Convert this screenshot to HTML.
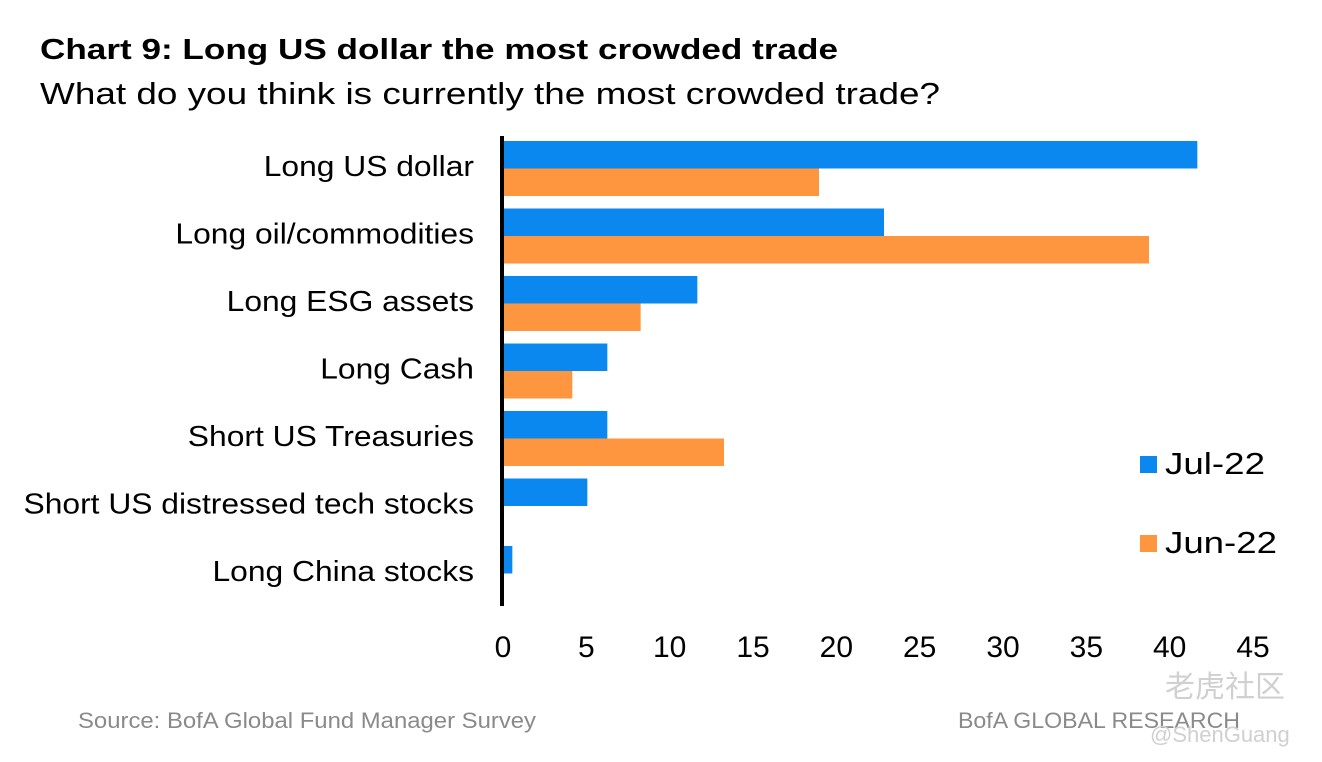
<!DOCTYPE html>
<html><head><meta charset="utf-8"><style>
body{margin:0;background:#fff;font-family:"Liberation Sans",sans-serif;}
svg{display:block}
</style></head><body>
<svg width="1322" height="762" xmlns="http://www.w3.org/2000/svg" id="chart">
<text x="40" y="59" font-size="29" font-weight="bold" fill="#000" textLength="798" lengthAdjust="spacingAndGlyphs">Chart 9: Long US dollar the most crowded trade</text>
<text x="40" y="104" font-size="31" fill="#000" textLength="900" lengthAdjust="spacingAndGlyphs">What do you think is currently the most crowded trade?</text>
<g id="bars"></g>
<g id="cats"></g>
<g id="ticks"></g>
<rect x="500" y="136" width="4" height="470" fill="#000"/>
<g>
<rect x="1140" y="456" width="17" height="17" fill="#0a88f0"/>
<text x="1165" y="474" font-size="31" textLength="100" lengthAdjust="spacingAndGlyphs">Jul-22</text>
<rect x="1140" y="535" width="17" height="17" fill="#fd963e"/>
<text x="1165" y="553" font-size="31" textLength="112" lengthAdjust="spacingAndGlyphs">Jun-22</text>
</g>
<text x="78" y="728" font-size="22" fill="#8a8a8a" textLength="458" lengthAdjust="spacingAndGlyphs">Source: BofA Global Fund Manager Survey</text>
<text x="958" y="728" font-size="22" fill="#8a8a8a" textLength="282" lengthAdjust="spacingAndGlyphs">BofA GLOBAL RESEARCH</text>
<text x="1165" y="697" font-size="30" fill="#d0d0d0" font-family="'Liberation Sans','Noto Sans CJK SC',sans-serif">老虎社区</text>
<text x="1150" y="742" font-size="22" fill="#d0d0d0">@ShenGuang</text>
</svg>
<script>
const categories=["Long US dollar","Long oil/commodities","Long ESG assets","Long Cash","Short US Treasuries","Short US distressed tech stocks","Long China stocks"];
const julValues=[41.6,22.8,11.6,6.2,6.2,5.0,0.5];
const junValues=[18.9,38.7,8.2,4.1,13.2,0,0];
const tickValues=[0,5,10,15,20,25,30,35,40,45];
const NS="http://www.w3.org/2000/svg";
const x=v=>504+v*(1253-503)/45;
const rowTop=i=>141+i*67.5;
const bars=document.getElementById('bars'),cats=document.getElementById('cats'),ticks=document.getElementById('ticks');
function mk(t,a){const e=document.createElementNS(NS,t);for(const k in a)e.setAttribute(k,a[k]);return e;}
categories.forEach((c,i)=>{
  const r1=mk('rect',{x:x(0),y:rowTop(i),width:Math.max(0,x(julValues[i])-x(0)),height:27.5,fill:'#0a88f0'});
  
  
  bars.appendChild(r1);
  if(junValues[i]>0){
  const r2=mk('rect',{x:x(0),y:rowTop(i)+27.5,width:x(junValues[i])-x(0),height:27.5,fill:'#fd963e'});
  
  
  bars.appendChild(r2);}
  const t=mk('text',{x:474,y:rowTop(i)+35,'text-anchor':'end','font-size':29});
  t.textContent=c;
  
  
  cats.appendChild(t);
  const w=t.getComputedTextLength();
  t.setAttribute('textLength',w*1.096);
  t.setAttribute('lengthAdjust','spacingAndGlyphs');
});
tickValues.forEach(v=>{
  const t=mk('text',{x:x(v)-1,y:657,'text-anchor':'middle','font-size':30});
  t.textContent=v;
  
  
  ticks.appendChild(t);
});
</script>
</body></html>
